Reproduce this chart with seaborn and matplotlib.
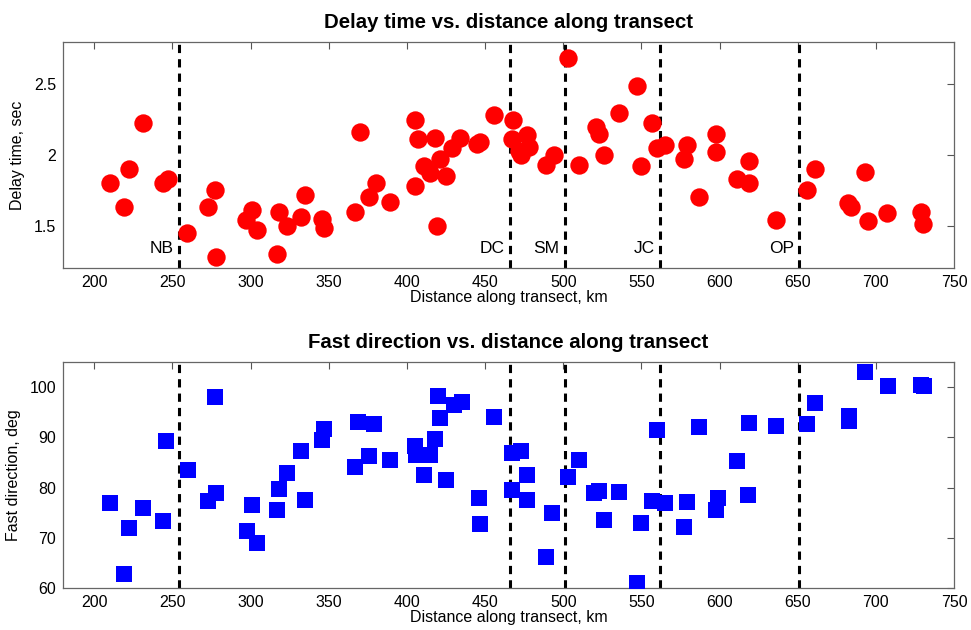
import numpy as np
import pandas as pd
import matplotlib
matplotlib.use("Agg")
import matplotlib.pyplot as plt
import seaborn as sns

# ---- data ----
delay_km = [210, 219, 222, 231, 244, 247, 259, 273, 277, 278, 297, 301, 304, 317, 318,
            323, 332, 335, 346, 347, 367, 370, 376, 380, 389, 405, 405, 407, 411, 415,
            418, 419, 421, 425, 429, 434, 445, 447, 456, 467, 468, 472, 473, 477, 478,
            489, 494, 503, 510, 521, 523, 526, 536, 547, 550, 557, 560, 565, 577, 579,
            587, 598, 598, 611, 619, 619, 636, 656, 661, 682, 684, 693, 695, 707, 729, 730]
delay_sec = [1.80, 1.63, 1.90, 2.23, 1.80, 1.83, 1.45, 1.63, 1.75, 1.28, 1.54, 1.61, 1.47, 1.30, 1.60,
             1.50, 1.56, 1.72, 1.55, 1.48, 1.60, 2.16, 1.70, 1.80, 1.67, 1.78, 2.25, 2.11, 1.92, 1.87,
             2.12, 1.50, 1.97, 1.85, 2.05, 2.12, 2.08, 2.09, 2.28, 2.11, 2.25, 2.03, 2.00, 2.14, 2.06,
             1.93, 2.00, 2.69, 1.93, 2.20, 2.15, 2.00, 2.30, 2.49, 1.92, 2.23, 2.05, 2.07, 1.97, 2.07,
             1.70, 2.15, 2.02, 1.83, 1.96, 1.80, 1.54, 1.75, 1.90, 1.66, 1.63, 1.88, 1.53, 1.59, 1.60, 1.51]

fast_km = [210, 219, 222, 231, 244, 246, 260, 273, 278, 277, 298, 301, 304, 317, 318,
           323, 332, 335, 346, 347, 367, 369, 376, 379, 389, 405, 406, 411, 415, 418,
           420, 421, 425, 430, 435, 446, 447, 456, 467, 473, 467, 477, 477, 493, 489,
           503, 510, 520, 523, 526, 536, 550, 547, 557, 560, 565, 579, 577, 587, 599,
           598, 611, 619, 618, 636, 656, 661, 683, 683, 693, 708, 729, 731]
fast_deg = [77.0, 62.7, 72.0, 76.0, 73.3, 89.3, 83.5, 77.3, 78.9, 98.0, 71.3, 76.6, 69.0, 75.5, 79.8,
            82.8, 87.3, 77.6, 89.5, 91.6, 84.0, 93.0, 86.3, 92.7, 85.5, 88.3, 86.5, 82.5, 86.5, 89.7,
            98.2, 93.9, 81.6, 96.5, 97.0, 78.0, 72.7, 94.0, 86.8, 87.2, 79.6, 82.4, 77.5, 75.0, 66.2,
            82.0, 85.4, 79.0, 79.3, 73.5, 79.1, 73.0, 61.0, 77.3, 91.5, 77.0, 77.1, 72.2, 92.0, 78.0,
            75.5, 85.2, 92.9, 78.6, 92.2, 92.6, 96.8, 94.3, 93.2, 103.0, 100.3, 100.4, 100.3]

boundary_km = [254, 466, 501, 562, 651]
boundary_names = ["NB", "DC", "SM", "JC", "OP"]

x_ticks = [200, 250, 300, 350, 400, 450, 500, 550, 600, 650, 700, 750]
delay_ticks = [1.5, 2.0, 2.5]
fast_ticks = [60, 70, 80, 90, 100]

# ---- style ----
sns.set_style("white")
plt.rcParams['font.family'] = ['Liberation Sans', 'DejaVu Sans']
plt.rcParams['text.color'] = 'black'
plt.rcParams['axes.labelcolor'] = 'black'
plt.rcParams['xtick.labelcolor'] = 'black'
plt.rcParams['ytick.labelcolor'] = 'black'

fig = plt.figure(figsize=(9.71, 6.30), dpi=100)
ax1 = fig.add_axes([0.0649, 0.5746, 0.9176, 0.3587])
ax2 = fig.add_axes([0.0649, 0.0667, 0.9176, 0.3587])

df1 = pd.DataFrame({"km": delay_km, "delay": delay_sec})
df2 = pd.DataFrame({"km": fast_km, "fast": fast_deg})

sns.scatterplot(data=df1, x="km", y="delay", ax=ax1, color="#ff0000", marker="o",
                s=175, linewidth=0, zorder=3)
sns.scatterplot(data=df2, x="km", y="fast", ax=ax2, color="#0000ff", marker="s",
                s=120, linewidth=0, zorder=3)

for ax in (ax1, ax2):
    for b in boundary_km:
        ax.axvline(b, color="black", lw=2.2, dashes=(2.7, 2.0), zorder=2)
    ax.set_xlim(180, 750)
    ax.set_xticks(x_ticks)
    ax.tick_params(direction="in", length=5, width=0.8, color="#555555",
                   labelcolor="black", top=True, right=True, labelsize=11.5, pad=5)
    for sp in ax.spines.values():
        sp.set_color("#666666")
        sp.set_linewidth(0.9)
    ax.set_xlabel("Distance along transect, km", fontsize=11.5, labelpad=0, color="black")

ax1.set_ylim(1.2, 2.8)
ax1.set_yticks(delay_ticks)
ax1.set_yticklabels(["1.5", "2", "2.5"])
ax1.set_ylabel("Delay time, sec", fontsize=11.5, color="black", labelpad=6)
ax1.set_title("Delay time vs. distance along transect", fontsize=14.7, fontweight="bold",
              pad=10, color="black")

for b, name in zip(boundary_km, boundary_names):
    ax1.text(b - 3.5, 1.34, name, ha="right", va="center", fontsize=12.5, color="black", zorder=4)

ax2.set_ylim(60, 105)
ax2.set_yticks(fast_ticks)
ax2.set_ylabel("Fast direction, deg", fontsize=11.5, color="black", labelpad=6)
ax2.set_title("Fast direction vs. distance along transect", fontsize=14.7, fontweight="bold",
              pad=10, color="black")

fig.savefig("out.png", dpi=100)
